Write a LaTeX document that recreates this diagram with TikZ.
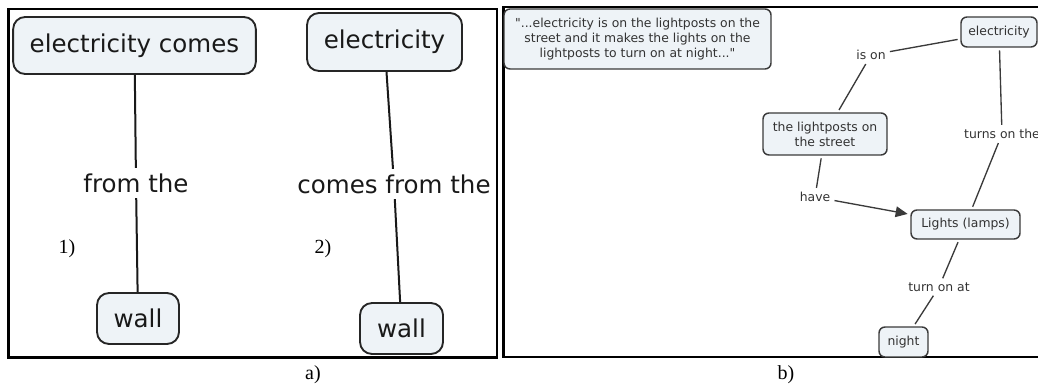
\documentclass[tikz,border=0pt]{standalone}
\usepackage{fontspec}
\setmainfont{Liberation Serif}
\newfontfamily\mapfont{DejaVu Sans}
\usepackage{xcolor}
\usepackage{tikz}
\usetikzlibrary{shapes, arrows.meta, positioning}
\definecolor{conceptfill}{HTML}{EEF3F7}
\definecolor{conceptline}{HTML}{3A3A3A}
\definecolor{maptext}{HTML}{333333}

\begin{document}
\begin{tikzpicture}[x=0.75pt, y=-0.75pt,
            panel/.style={draw=black, line width=2.2pt},
            bigconcept/.style={draw=black!85, fill=conceptfill, rounded corners=9pt, line width=1.4pt,
                inner sep=0pt, text=black!90, font=\mapfont\fontsize{18.4}{22}\selectfont},
            bigphrase/.style={inner sep=4pt, text=black!90, font=\mapfont\fontsize{18.4}{22}\selectfont},
            biglink/.style={draw=black!90, line width=1.5pt},
            concept/.style={draw=conceptline, fill=conceptfill, rounded corners=4.5pt, line width=1.1pt,
                inner sep=0pt, text=maptext, align=center, font=\mapfont\fontsize{9.3}{11.25}\selectfont},
            phrase/.style={inner sep=3pt, text=maptext, font=\mapfont\fontsize{9.3}{11.25}\selectfont},
            link/.style={draw=conceptline, line width=1pt},
            tag/.style={inner sep=0pt, font=\fontsize{15}{18}\selectfont}]
            \clip (0,0) rectangle (1038,388);
            \draw[panel] (8.5,9) rectangle (497,357.5);
            \draw[panel] (1040,7) -- (503.5,7) -- (503.5,357) -- (1040,357);
            \node[bigconcept, minimum width=182pt, minimum height=42.75pt] (ecomes) at (134.5,45.5) {electricity comes};
            \node[bigphrase] (fromthe) at (136,183) {from the};
            \node[bigconcept, minimum width=61.5pt, minimum height=38.25pt] (walla) at (138,318.5) {wall};
            \draw[biglink] (ecomes) -- (fromthe);
            \draw[biglink] (fromthe) -- (walla);
            \node[bigconcept, minimum width=116.25pt, minimum height=43.5pt] (elecb) at (384.5,42) {electricity};
            \node[bigphrase] (comesfrom) at (394,184) {comes from the};
            \node[bigconcept, minimum width=62.25pt, minimum height=38.25pt] (wallb) at (401.5,328.5) {wall};
            \draw[biglink] (elecb) -- (comesfrom);
            \draw[biglink] (comesfrom) -- (wallb);
            \node[tag] (one) at (67,249) {1)};
            \node[tag] (two) at (323,249) {2)};
            \node[tag] (capa) at (313,375) {a)};
            \node[concept, minimum width=200.25pt, minimum height=45pt] (quote) at (637.5,39)
                {"...electricity is on the lightposts on the\\ street and it makes the lights on the\\ lightposts to turn on at night..."};
            \node[concept, minimum width=57pt, minimum height=22.5pt] (elec) at (999,32) {electricity};
            \node[phrase] (ison) at (871,55) {is on};
            \node[concept, minimum width=93pt, minimum height=31.5pt] (posts) at (825,134) {the lightposts on\\ the street};
            \node[phrase] (have) at (815,197) {have};
            \node[phrase] (turnson) at (1002,134) {turns on the};
            \node[concept, minimum width=81.75pt, minimum height=21.75pt] (lights) at (965.5,224.5) {Lights (lamps)};
            \node[phrase] (turnat) at (939,287) {turn on at};
            \node[concept, minimum width=36.75pt, minimum height=22.5pt] (night) at (903.5,342) {night};
            \draw[link, shorten <=2pt] (elec) -- (ison);
            \draw[link, shorten >=2pt] (ison) -- (posts);
            \draw[link, shorten <=2pt] (posts) -- (have);
            \draw[link, shorten >=2pt, -{Triangle[length=9pt, width=8pt]}] (have) -- (lights);
            \draw[link, shorten <=2pt] (elec) -- (turnson);
            \draw[link, shorten >=2pt] (turnson) -- (lights);
            \draw[link, shorten <=2pt] (lights) -- (turnat);
            \draw[link, shorten >=2pt] (turnat) -- (night);
            \node[tag] (capb) at (786,375) {b)};
        \end{tikzpicture}
\end{document}
